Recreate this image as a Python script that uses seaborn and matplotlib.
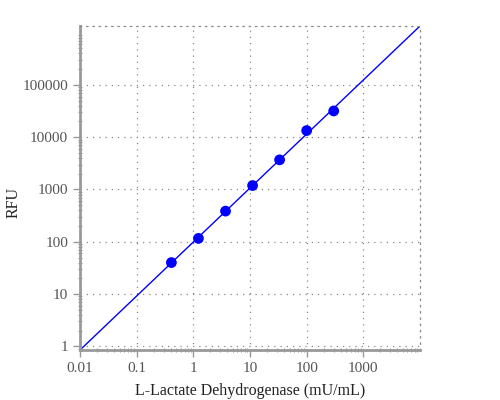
import numpy as np
import pandas as pd
import seaborn as sns
import matplotlib
matplotlib.use("Agg")
import matplotlib.pyplot as plt
from matplotlib.ticker import LogLocator, FixedLocator, FuncFormatter, NullFormatter

# standard curve readings
conc = [0.41, 1.23, 3.7, 11.1, 33.3, 100, 300]           # mU/mL
rfu = [40, 116, 386, 1190, 3690, 13400, 31800]
x_ticks = [0.01, 0.1, 1, 10, 100, 1000]
y_ticks = [1, 10, 100, 1000, 10000, 100000]
x_range = [0.01, 10000]

sns.set_style("white")
plt.rcParams['font.family'] = ['Liberation Serif', 'DejaVu Serif']

df = pd.DataFrame({'conc': conc, 'rfu': rfu})

# log-log linear fit for the standard curve
slope, icept = np.polyfit(np.log10(df['conc']), np.log10(df['rfu']), 1)
fit = pd.DataFrame({'conc': x_range})
fit['rfu'] = 10 ** (icept + slope * np.log10(fit['conc']))

fig = plt.figure(figsize=(5, 4), dpi=100)
ax = fig.add_axes([0.16, 0.125, 0.68, 0.81])
ax.set_xscale('log')
ax.set_yscale('log')

sns.lineplot(data=fit, x='conc', y='rfu', ax=ax, color='#0000ff', linewidth=1)
sns.scatterplot(data=df, x='conc', y='rfu', ax=ax, color='#0000ff', s=60,
                edgecolor='none', zorder=3)

ax.set_xlim(x_range)
ax.set_ylim(fit['rfu'].iloc[0], fit['rfu'].iloc[1])

ax.xaxis.set_major_locator(FixedLocator(x_ticks))
ax.yaxis.set_major_locator(FixedLocator(y_ticks))
ax.xaxis.set_minor_locator(LogLocator(base=10, subs=np.arange(2, 10), numticks=20))
ax.yaxis.set_minor_locator(LogLocator(base=10, subs=np.arange(2, 10), numticks=20))
fmt = FuncFormatter(lambda v, p: f"{v:g}" if v < 1 else f"{int(v)}")
ax.xaxis.set_major_formatter(fmt)
ax.yaxis.set_major_formatter(fmt)
ax.xaxis.set_minor_formatter(NullFormatter())
ax.yaxis.set_minor_formatter(NullFormatter())

ax.grid(True, which='major', linestyle=(0, (1, 4)), color='#888888', linewidth=0.9)
for s in ['left', 'bottom']:
    ax.spines[s].set_color('#999999')
    ax.spines[s].set_linewidth(2)
for s in ['top', 'right']:
    ax.spines[s].set_color('#888888')
    ax.spines[s].set_linestyle((0, (1, 4)))
    ax.spines[s].set_linewidth(0.9)

ax.tick_params(which='major', direction='out', length=5, width=1, color='#999999',
               labelcolor='#555555', labelsize=11, left=True, bottom=True)
ax.tick_params(which='minor', direction='inout', length=3, width=0.8, color='#999999',
               left=True, bottom=True)

ax.set_xlabel('L-Lactate Dehydrogenase (mU/mL)', fontsize=11.5, color='#222222', labelpad=6)
ax.set_ylabel('RFU', fontsize=11.5, color='#222222')
ax.yaxis.set_label_coords(-0.172, 0.454)

fig.savefig('out.png', dpi=100)
